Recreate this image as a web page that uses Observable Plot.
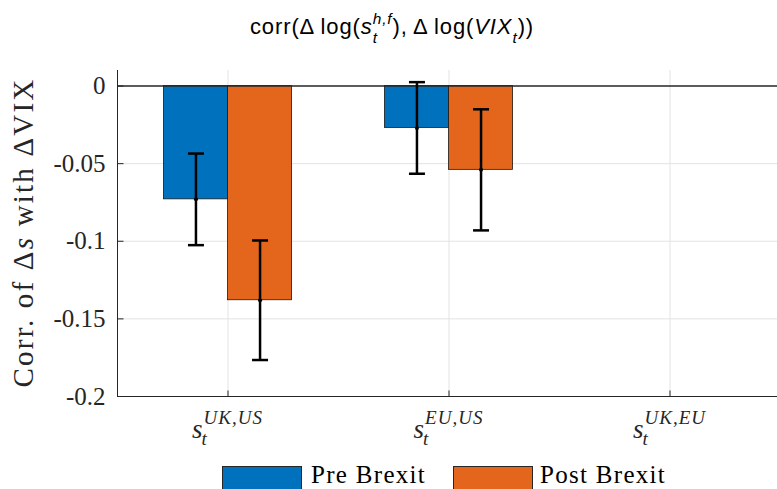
<!DOCTYPE html>
<html><head><meta charset="utf-8">
<script src="https://cdn.jsdelivr.net/npm/d3@7"></script>
<script src="https://cdn.jsdelivr.net/npm/@observablehq/plot@0.6"></script>
<style>
html,body{margin:0;padding:0;background:#fff;}
#wrap{position:relative;width:777px;height:489px;overflow:hidden;background:#fff;}
#chart{position:absolute;left:0;top:0;width:790px;}
#chart svg{max-width:none !important;}
#title{position:absolute;top:16px;left:0;width:784px;text-align:center;font-family:"Liberation Sans",Arial,sans-serif;font-size:22px;line-height:22px;letter-spacing:0.9px;color:#000;white-space:nowrap;}
#title i{font-style:italic;}
.ss{position:relative;display:inline-block;font-size:0.7em;}
.ss .sup{position:relative;top:-10px;}
.ss .sub{position:absolute;left:0;top:9px;}
.sub2{font-size:0.7em;vertical-align:-9px;font-style:italic;}
.sw{position:absolute;top:466px;width:80px;height:28px;box-sizing:border-box;border:1px solid #262626;}
.lt{position:absolute;top:462px;font-family:"Liberation Serif",serif;font-size:25px;line-height:25px;letter-spacing:1.3px;color:#000;white-space:nowrap;}
</style></head>
<body>
<div id="wrap">
  <div id="chart"></div>
  <div id="title">corr(Δ&#8201;log(<i>s</i><span class="ss"><i class="sup">h,f</i><i class="sub">t</i></span>),&#8201;Δ&#8201;log(<i>VIX</i><span class="sub2">t</span>))</div>
  <div id="legend"></div>
</div>
<script>
// ---- data ----
const categories = ["UK,US", "EU,US", "UK,EU"];
const series = ["Pre Brexit", "Post Brexit"];
const preBrexit = [-0.073, -0.027, NaN];
const postBrexit = [-0.138, -0.054, NaN];
const preErr = [0.0295, 0.0295, NaN];
const postErr = [0.0385, 0.039, NaN];
const yTicks = [0, -0.05, -0.1, -0.15, -0.2];
const yTickLabels = ["0", "-0.05", "-0.1", "-0.15", "-0.2"];
const colors = ["#0072BD", "#E4661C"];
const yLabel = "Corr. of Δs with ΔVIX";

// ---- table ----
const rows = [];
categories.forEach((c, i) => {
  rows.push({cat: c, pos: i + 1, series: series[0], side: -1, value: preBrexit[i], err: preErr[i]});
  rows.push({cat: c, pos: i + 1, series: series[1], side: 1, value: postBrexit[i], err: postErr[i]});
});
const valid = rows.filter(r => Number.isFinite(r.value));
const BW = 0.29;
const center = r => r.pos + r.side * BW / 2;
const xDomain = [0.5, categories.length + 0.5];
const yDomain = [-0.2, 0.01];
const axisColor = "#262626";

const capSym = {draw(ctx) { ctx.moveTo(-8, 0); ctx.lineTo(8, 0); }};
const yTickSym = {draw(ctx) { ctx.moveTo(0, 0); ctx.lineTo(6, 0); }};
const xTickSym = {draw(ctx) { ctx.moveTo(0, 0); ctx.lineTo(0, -6); }};

const plot = Plot.plot({
  width: 790, height: 455,
  marginLeft: 117, marginRight: 10, marginTop: 70, marginBottom: 59,
  style: {fontFamily: '"Liberation Serif", serif', fontSize: "25px", color: axisColor, background: "transparent", maxWidth: "none"},
  x: {domain: xDomain, axis: null},
  y: {domain: yDomain, axis: null},
  color: {domain: series, range: colors},
  marks: [
    Plot.gridY(yTicks.slice(1, -1), {stroke: "#e3e3e3", strokeOpacity: 1, strokeWidth: 1}),
    Plot.gridX(categories.map((c, i) => i + 1), {stroke: "#e3e3e3", strokeOpacity: 1, strokeWidth: 1}),
    Plot.rectY(valid, {x1: r => r.side < 0 ? r.pos - BW : r.pos, x2: r => r.side < 0 ? r.pos : r.pos + BW,
      y1: 0, y2: "value", fill: "series", stroke: "#1a1a1a", strokeWidth: 0.8}),
    Plot.ruleY([0], {stroke: axisColor, strokeWidth: 1.5}),
    Plot.ruleX(valid, {x: center, y1: r => r.value - r.err, y2: r => r.value + r.err, stroke: "#000", strokeWidth: 2.5}),
    Plot.dot(valid, {x: center, y: r => r.value - r.err, symbol: capSym, stroke: "#000", strokeWidth: 2.5, r: 3}),
    Plot.dot(valid, {x: center, y: r => r.value + r.err, symbol: capSym, stroke: "#000", strokeWidth: 2.5, r: 3}),
    Plot.dot(valid, {x: center, y: "value", r: 2, fill: "#000"}),
    Plot.ruleX([xDomain[0]], {stroke: axisColor, strokeWidth: 1}),
    Plot.ruleY([yDomain[0]], {stroke: axisColor, strokeWidth: 1}),
    Plot.dot(yTicks, {x: xDomain[0], y: d => d, symbol: yTickSym, stroke: axisColor, strokeWidth: 1, r: 3}),
    Plot.dot(categories.map((c, i) => i + 1), {x: d => d, y: yDomain[0], symbol: xTickSym, stroke: axisColor, strokeWidth: 1, r: 3}),
    Plot.axisY(yTicks, {tickSize: 0, tickPadding: 12, fontSize: 25, fill: axisColor, label: null,
      tickFormat: d => yTickLabels[yTicks.indexOf(d)]})
  ]
});
document.getElementById("chart").append(plot);

// ---- x tick labels: s_t^{cat} ----
const svg = d3.select(plot);
const xs = plot.scale("x");
categories.forEach((c, i) => {
  const X = xs.apply(i + 1);
  const g = svg.append("g").attr("fill", axisColor).attr("text-anchor", "start")
    .style("font-family", '"Liberation Serif", serif').style("font-style", "italic");
  const s = g.append("text").attr("y", 438).attr("font-size", 27).text("s");
  const sup = g.append("text").attr("y", 424).attr("font-size", 19).attr("letter-spacing", 1).text(c);
  const sub = g.append("text").attr("y", 445).attr("font-size", 19).text("t");
  const ws = s.node().getComputedTextLength();
  const wsup = sup.node().getComputedTextLength();
  const wsub = sub.node().getComputedTextLength();
  const total = ws + 1 + Math.max(wsup, wsub);
  const x0 = X - total / 2;
  s.attr("x", x0);
  sup.attr("x", x0 + ws + 1);
  sub.attr("x", x0 + ws - 1);
});

// ---- y label ----
const yl = svg.append("text")
  .attr("transform", "translate(32.5,232.5) rotate(-90)")
  .attr("text-anchor", "middle")
  .attr("font-size", 29).attr("letter-spacing", 2.2)
  .attr("fill", axisColor)
  .style("font-family", '"Liberation Serif", serif');
const parts = yLabel.split("s with");
yl.append("tspan").text(parts[0]);
yl.append("tspan").style("font-style", "italic").text("s");
yl.append("tspan").text(" with" + parts[1]);

// ---- legend ----
const legend = document.getElementById("legend");
const swX = [222, 453], txX = [311, 540];
series.forEach((name, j) => {
  const sw = document.createElement("div");
  sw.className = "sw"; sw.style.left = swX[j] + "px"; sw.style.background = colors[j];
  const t = document.createElement("div");
  t.className = "lt"; t.style.left = txX[j] + "px"; t.textContent = name;
  legend.append(sw, t);
});
</script>
</body></html>
